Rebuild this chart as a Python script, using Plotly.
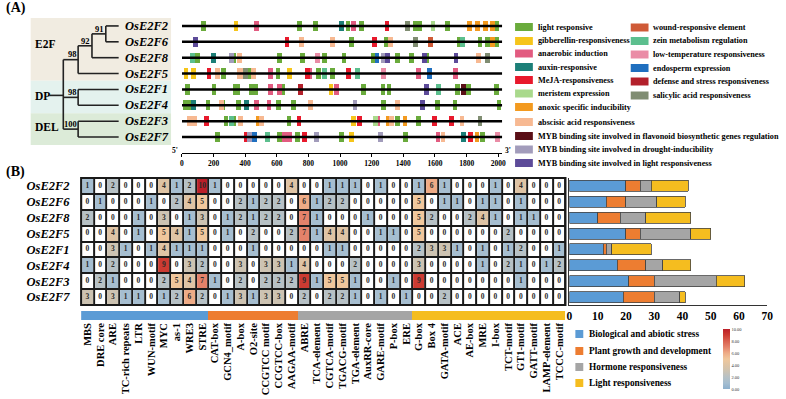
import numpy as np
import plotly.graph_objects as go

W, H = 786, 399
FONT = "Liberation Serif"

# ---------------- data ----------------
genes = ["OsE2F2", "OsE2F6", "OsE2F8", "OsE2F5", "OsE2F1", "OsE2F4", "OsE2F3", "OsE2F7"]

elements = ["MBS", "DRE core", "ARE", "TC-rich repeats", "LTR", "WUN-motif", "MYC", "as-1", "WRE3", "STRE",
            "CAT-box", "GCN4_motif", "A-box", "O2-site", "CCGTCC motif", "CCGTCC-box", "AAGAA-motif",
            "ABRE", "TCA-element", "CGTCA-motif", "TGACG-motif", "TGA-element", "AuxRR-core", "GARE-motif",
            "P-box", "ERE",
            "G-box", "Box 4", "GATA-motif", "ACE", "AE-box", "MRE", "I-box", "TCT-motif", "GT1-motif",
            "GATT-motif", "LAMP-element", "TCCC-motif"]

category_names = ["Biological and abiotic stress", "Plant growth and development",
                  "Hormone responsiveness", "Light responsiveness"]
category_sizes = [10, 7, 9, 12]
category_colors = ["#5b9bd5", "#ed7d31", "#a5a5a5", "#f5bd1f"]

counts_F2 = [1, 0, 2, 0, 0, 0, 4, 1, 2, 10, 1, 0, 0, 0, 0, 0, 4, 0, 0, 1, 1, 1, 0, 1, 0, 0,
             1, 6, 1, 0, 0, 0, 1, 0, 4, 0, 0, 0]
counts_F6 = [0, 1, 0, 0, 0, 1, 0, 2, 4, 5, 0, 0, 2, 1, 2, 2, 0, 6, 1, 2, 2, 0, 0, 0, 0, 0,
             5, 0, 1, 1, 0, 1, 1, 0, 1, 0, 0, 0]
counts_F8 = [2, 0, 0, 0, 1, 0, 3, 0, 1, 3, 0, 1, 2, 1, 2, 2, 0, 7, 1, 0, 0, 0, 1, 0, 0, 0,
             5, 2, 0, 0, 2, 4, 1, 0, 1, 1, 0, 0]
counts_F5 = [0, 0, 4, 0, 1, 0, 5, 4, 1, 5, 0, 1, 0, 2, 0, 0, 2, 7, 1, 4, 4, 0, 0, 1, 1, 0,
             5, 0, 0, 0, 0, 0, 0, 2, 0, 0, 0, 0]
counts_F1 = [0, 0, 3, 1, 0, 1, 4, 1, 1, 1, 0, 0, 0, 1, 0, 0, 0, 0, 0, 1, 1, 0, 0, 0, 0, 0,
             2, 3, 3, 1, 0, 1, 0, 1, 2, 0, 0, 1]
counts_F4 = [1, 0, 2, 0, 0, 0, 9, 0, 3, 2, 0, 0, 3, 0, 3, 3, 1, 4, 0, 0, 0, 2, 0, 0, 0, 0,
             3, 0, 0, 0, 0, 1, 0, 2, 1, 0, 1, 2]
counts_F3 = [0, 2, 1, 0, 0, 0, 2, 5, 4, 7, 1, 0, 2, 0, 2, 2, 2, 9, 1, 5, 5, 1, 0, 0, 1, 0,
             9, 0, 0, 0, 0, 0, 0, 0, 1, 0, 0, 0]
counts_F7 = [3, 0, 3, 1, 1, 0, 1, 2, 6, 2, 0, 1, 3, 1, 3, 3, 0, 2, 0, 2, 2, 1, 0, 1, 0, 1,
             0, 0, 2, 0, 0, 0, 0, 0, 0, 0, 0, 0]
counts = [counts_F2, counts_F6, counts_F8, counts_F5, counts_F1, counts_F4, counts_F3, counts_F7]

# promoter element types (legend order)
site_types = ["L", "G", "AN", "AU", "M", "ME", "AX", "ABA", "MF", "MD", "ML",
              "W", "Z", "LT", "EN", "D", "SA"]
site_labels = ["light responsive", "gibberellin-responsiveness", "anaerobic induction", "auxin-responsive",
               "MeJA-responsiveness", "meristem expression", "anoxic specific inducibility",
               "abscisic acid responsiveness",
               "MYB binding site involved in flavonoid biosynthetic genes regulation",
               "MYB binding site involved in drought-inducibility",
               "MYB binding site involved in light responsiveness",
               "wound-responsive element", "zein metabolism regulation", "low-temperature responsiveness",
               "endosperm expression", "defense and stress responsiveness", "salicylic acid responsiveness"]
site_colors = ["#6aab3c", "#f6c51a", "#e25b80", "#1c7f78", "#e8192c", "#a9d98c", "#f39a1f", "#f7b992",
               "#5a0e16", "#a29cbb", "#5d4b99",
               "#cf5a37", "#5cbf8e", "#ea8ca6", "#1f6fbf", "#b3202b", "#808d72"]

sites_pos_F2 = [135, 342, 473, 744, 844, 1010, 1050, 1087, 1135, 1296, 1427, 1473, 1500, 1587, 1677,
                1817, 1869, 1921, 1962, 1990]
sites_type_F2 = ["L", "G", "AN", "L", "L", "AU", "L", "AN", "L", "M", "SA", "L", "L", "ME", "L",
                 "AX", "AX", "AX", "AX", "L"]
sites_pos_F6 = [87, 664, 754, 952, 1071, 1219, 1290, 1317, 1477, 1573, 1754, 1775, 1885, 1931, 1962, 1990]
sites_type_F6 = ["ML", "M", "ABA", "ABA", "L", "M", "L", "ABA", "SA", "W", "L", "Z", "L", "L", "AX", "L"]
sites_pos_F8 = [69, 100, 198, 312, 327, 365, 615, 760, 858, 900, 1025, 1212, 1233, 1275, 1302, 1365,
                1452, 1535, 1546, 1733, 1875, 1931]
sites_type_F8 = ["Z", "L", "AU", "MD", "L", "ABA", "L", "L", "LT", "L", "L", "L", "EN", "MD", "ML", "L",
                 "L", "ML", "L", "ML", "ABA", "SA"]
sites_pos_F5 = [25, 73, 171, 223, 265, 365, 381, 404, 421, 452, 560, 608, 681, 792, 806, 865, 900, 952,
                1052, 1108, 1275, 1498, 1567, 1729]
sites_type_F5 = ["G", "G", "M", "ABA", "L", "ABA", "ABA", "SA", "L", "ABA", "AN", "L", "G", "M", "AN",
                 "L", "Z", "L", "M", "Z", "LT", "AN", "EN", "AN"]
sites_pos_F1 = [37, 202, 335, 352, 437, 465, 560, 619, 635, 750, 942, 979, 1146, 1271, 1310, 1546, 1623,
                1744, 1781, 1812, 1990]
sites_type_F1 = ["L", "L", "L", "L", "L", "L", "AN", "AN", "L", "D", "G", "AN", "L", "L", "L", "ML", "Z",
                 "L", "MF", "L", "L"]
sites_pos_F4 = [21, 46, 73, 165, 248, 260, 358, 410, 473, 550, 612, 706, 812, 1094, 1275, 1363, 1519,
                1615, 1727, 2004]
sites_type_F4 = ["L", "L", "AU", "L", "ABA", "L", "L", "AU", "AN", "AN", "L", "L", "ABA", "MD", "L", "ABA",
                 "ML", "L", "L", "L"]
sites_pos_F3 = [50, 81, 156, 279, 312, 327, 369, 483, 504, 677, 740, 1087, 1123, 1223, 1240, 1306, 1327,
                1365, 1410, 1494, 1598, 1706, 1771, 1885]
sites_type_F3 = ["ABA", "ABA", "M", "L", "Z", "L", "ABA", "AX", "ABA", "L", "M", "G", "M", "ME", "AN", "AX",
                 "ABA", "L", "AX", "L", "M", "M", "ABA", "SA"]
sites_pos_F7 = [227, 406, 427, 458, 542, 615, 650, 681, 733, 775, 852, 1010, 1073, 1254, 1415, 1619, 1650,
                1779, 1823, 1865, 1900, 1994]
sites_type_F7 = ["L", "M", "MD", "EN", "Z", "L", "AN", "AN", "L", "M", "MD", "L", "G", "MD", "L", "AN", "ABA",
                 "AU", "M", "AX", "L", "LT"]
sites_pos = [sites_pos_F2, sites_pos_F6, sites_pos_F8, sites_pos_F5, sites_pos_F1, sites_pos_F4,
             sites_pos_F3, sites_pos_F7]
sites_type = [sites_type_F2, sites_type_F6, sites_type_F8, sites_type_F5, sites_type_F1, sites_type_F4,
              sites_type_F3, sites_type_F7]
promoter_length = 2025
ruler_ticks = list(range(0, 2001, 200))

# phylogenetic tree (node name, depth, children, bootstrap)
leaf_depth = 117
tree_nodes = [("n91", 104, ["OsE2F2", "OsE2F6"], "91"),
              ("n92", 90, ["n91", "OsE2F8"], "92"),
              ("n98a", 76, ["n92", "OsE2F5"], "98"),
              ("nDP", 76, ["OsE2F1", "OsE2F4"], "98"),
              ("nDEL", 76, ["OsE2F3", "OsE2F7"], "100"),
              ("root", 61, ["n98a", "nDP", "nDEL"], "")]
root_stub = 47
subfamilies = ["E2F", "DP", "DEL"]
subfamily_rows = [(-0.62, 3.45), (3.45, 5.5), (5.5, 7.62)]
subfamily_label_rows = [1.15, 4.42, 6.38]
subfamily_fill = ["#f1ece1", "#e4f2ee", "#dcebd8"]

bar_ticks = list(range(0, 71, 10))

# ---------------- helpers ----------------
def px_x(p):
    return p / W

def px_y(p):
    return 1 - p / H

def bfont(size, color="black", italic=False):
    d = dict(family=FONT, size=size, color=color, weight="bold")
    if italic:
        d["style"] = "italic"
    return d

fig = go.Figure()
rows = list(range(len(genes)))

# ---------------- panel A : tree ----------------
ypos = {g: i for i, g in enumerate(genes)}
xpos = {g: leaf_depth for g in genes}
tx, ty = [], []
for name, depth, children, boot in tree_nodes:
    cy = [ypos[c] for c in children]
    ypos[name] = (min(cy) + max(cy)) / 2 if len(children) == 2 else float(np.mean(cy))
    xpos[name] = depth
    tx += [depth, depth, None]
    ty += [min(cy), max(cy), None]
    for c in children:
        tx += [depth, xpos[c], None]
        ty += [ypos[c], ypos[c], None]
tx += [root_stub, xpos["root"], None]
ty += [ypos["root"], ypos["root"], None]
fig.add_trace(go.Scatter(x=tx, y=ty, mode="lines", line=dict(color="#222222", width=1.6),
                         xaxis="x", yaxis="y", hoverinfo="skip"))

shapes = []
annotations = []
for (r0, r1), col in zip(subfamily_rows, subfamily_fill):
    shapes.append(dict(type="rect", xref="x", yref="y", x0=28, x1=170, y0=r0, y1=r1,
                       fillcolor=col, line=dict(width=0), layer="below"))
for lab, r in zip(subfamilies, subfamily_label_rows):
    annotations.append(dict(x=30, y=r, xref="x", yref="y", text=lab, showarrow=False,
                            xanchor="left", yanchor="middle", font=bfont(11.5)))
for name, depth, children, boot in tree_nodes:
    if boot:
        annotations.append(dict(x=depth + 0.5, y=ypos[name] - 0.33, xref="x", yref="y", text=boot,
                                showarrow=False, xanchor="right", yanchor="middle", font=bfont(8.5)))
for i, g in enumerate(genes):
    annotations.append(dict(x=121, y=i, xref="x", yref="y", text=g, showarrow=False,
                            xanchor="left", yanchor="middle", font=bfont(12.5, italic=True)))

# ---------------- panel A : promoter tracks ----------------
lx, ly = [], []
for i in rows:
    lx += [0, promoter_length, None]
    ly += [i, i, None]
fig.add_trace(go.Scatter(x=lx, y=ly, mode="lines", line=dict(color="black", width=2.6),
                         xaxis="x2", yaxis="y", hoverinfo="skip"))
site_w = 30
for t, col in zip(site_types, site_colors):
    xs, ys, bases = [], [], []
    for i in rows:
        for p, tt in zip(sites_pos[i], sites_type[i]):
            if tt == t:
                xs.append(site_w)
                ys.append(i)
                bases.append(p - site_w / 2)
    if xs:
        fig.add_trace(go.Bar(x=xs, y=ys, base=bases, orientation="h", width=0.64,
                             marker=dict(color=col, line=dict(width=0)),
                             xaxis="x2", yaxis="y", hoverinfo="skip"))

annotations.append(dict(x=0, y=px_y(150), xref="x2", yref="paper", text="5'", showarrow=False,
                        xanchor="right", yanchor="middle", xshift=-2, font=bfont(7.5)))
annotations.append(dict(x=promoter_length, y=px_y(150), xref="x2", yref="paper", text="3'",
                        showarrow=False, xanchor="left", yanchor="middle", xshift=1, font=bfont(7.5)))

# element legend
col1_y = [27, 41, 53.5, 67, 80, 93.5, 107, 122, 136, 149.5, 163]
col2_y = [27.5, 41, 54.5, 68, 81.5, 95.5]
for k, (lab, col) in enumerate(zip(site_labels, site_colors)):
    if k < 11:
        x0, yc = 518, col1_y[k]
    else:
        x0, yc = 635, col2_y[k - 11]
    shapes.append(dict(type="rect", xref="paper", yref="paper", x0=px_x(x0), x1=px_x(x0 + 18),
                       y0=px_y(yc + 4), y1=px_y(yc - 4), fillcolor=col, line=dict(width=0)))
    annotations.append(dict(x=px_x(x0 + 21), y=px_y(yc), xref="paper", yref="paper", text=lab,
                            showarrow=False, xanchor="left", yanchor="middle", font=bfont(8.2)))

# ---------------- panel B : heatmap ----------------
z = np.array(counts, dtype=float)
zc = np.where(z == 0, np.nan, z)
heat_cs = [[0.0, "#8db0cd"], [0.1, "#a6bed0"], [0.2, "#b7c1c5"], [0.3, "#cdc3b2"], [0.4, "#dfc4a5"],
           [0.5, "#f0c79c"], [0.6, "#eeab86"], [0.7, "#e4826a"], [0.8, "#d9604f"], [0.9, "#cc3b32"],
           [1.0, "#bb1f28"]]
cols = list(range(len(elements)))
fig.add_trace(go.Heatmap(z=np.zeros_like(z), x=cols, y=rows, colorscale=[[0, "white"], [1, "white"]],
                         showscale=False, xgap=2, ygap=2, xaxis="x3", yaxis="y3", hoverinfo="skip"))
fig.add_trace(go.Heatmap(z=zc, x=cols, y=rows, colorscale=heat_cs, zmin=0, zmax=10, xgap=2, ygap=2,
                         xaxis="x3", yaxis="y3", hoverinfo="skip",
                         colorbar=dict(x=px_x(728), xanchor="left", y=px_y(359), yanchor="middle",
                                       len=60 / H, lenmode="fraction", thickness=7, thicknessmode="pixels",
                                       outlinewidth=0, xpad=0, ypad=0, ticks="",
                                       tickvals=[0, 2, 4, 6, 8, 10], tickformat=".2f",
                                       tickfont=dict(family=FONT, size=4.5, color="#333"))))
tx_, ty_, tt_ = [], [], []
for i in rows:
    for j in cols:
        tx_.append(j)
        ty_.append(i)
        tt_.append(str(counts[i][j]))
fig.add_trace(go.Scatter(x=tx_, y=ty_, text=tt_, mode="text",
                         textfont=dict(family=FONT, size=7.5, color="#2b2b2b", weight="bold"),
                         xaxis="x3", yaxis="y3", hoverinfo="skip"))
shapes.append(dict(type="rect", xref="x3 domain", yref="y3 domain", x0=0, x1=1, y0=0, y1=1,
                   fillcolor="#1a1a1a", line=dict(width=0), layer="below"))
shapes.append(dict(type="rect", xref="x3 domain", yref="y3 domain", x0=0, x1=1, y0=0, y1=1,
                   fillcolor="rgba(0,0,0,0)", line=dict(width=2, color="#1a1a1a"), layer="above"))

# category bar below heatmap
cat_idx = []
for k, n in enumerate(category_sizes):
    cat_idx += [k] * n
cat_cs = [[0, category_colors[0]], [1 / 6, category_colors[0]], [1 / 6, category_colors[1]],
          [0.5, category_colors[1]], [0.5, category_colors[2]], [5 / 6, category_colors[2]],
          [5 / 6, category_colors[3]], [1, category_colors[3]]]
fig.add_trace(go.Heatmap(z=[cat_idx], x=cols, y=[0], colorscale=cat_cs, zmin=0, zmax=3, showscale=False,
                         xaxis="x3", yaxis="y4", hoverinfo="skip"))

# ---------------- panel B : stacked bars ----------------
start = 0
for k, n in enumerate(category_sizes):
    vals = [sum(c[start:start + n]) for c in counts]
    start += n
    fig.add_trace(go.Bar(x=vals, y=rows, orientation="h", width=0.7, name=category_names[k],
                         marker=dict(color=category_colors[k], line=dict(color="#444444", width=0.8)),
                         xaxis="x4", yaxis="y5", hoverinfo="skip"))

leg_y = [334, 351, 367, 383]
for k, (lab, col) in enumerate(zip(category_names, category_colors)):
    shapes.append(dict(type="rect", xref="paper", yref="paper", x0=px_x(579), x1=px_x(587),
                       y0=px_y(leg_y[k] + 4), y1=px_y(leg_y[k] - 4), fillcolor=col, line=dict(width=0)))
    annotations.append(dict(x=px_x(591), y=px_y(leg_y[k]), xref="paper", yref="paper", text=lab,
                            showarrow=False, xanchor="left", yanchor="middle", font=bfont(9.3)))

annotations.append(dict(x=px_x(1), y=px_y(8), xref="paper", yref="paper", text="(A)", showarrow=False,
                        xanchor="left", yanchor="middle", font=bfont(14)))
annotations.append(dict(x=px_x(1), y=px_y(172), xref="paper", yref="paper", text="(B)", showarrow=False,
                        xanchor="left", yanchor="middle", font=bfont(14)))

heat_dom = [px_y(305), px_y(178)]
fig.update_layout(
    width=W, height=H, margin=dict(l=0, r=0, t=0, b=0),
    paper_bgcolor="white", plot_bgcolor="white", showlegend=False, barmode="stack",
    font=dict(family=FONT),
    xaxis=dict(domain=[0, px_x(181)], range=[0, 181], visible=False, anchor="y", fixedrange=True),
    yaxis=dict(domain=[px_y(145), px_y(18)], range=[7.5, -0.5], visible=False, anchor="x"),
    xaxis2=dict(domain=[px_x(181), px_x(181 + promoter_length * 0.16)], range=[0, promoter_length],
                anchor="free", position=px_y(153), showline=True, linecolor="black", linewidth=1.3,
                ticks="outside", ticklen=3, tickcolor="black", tickwidth=1, tickvals=ruler_ticks,
                tickfont=bfont(7.5), showgrid=False, zeroline=False),
    xaxis3=dict(domain=[px_x(79), px_x(569)], range=[-0.5, len(elements) - 0.5], anchor="y4",
                tickvals=cols, ticktext=elements, tickangle=-90, tickfont=bfont(10.5), ticks="",
                showgrid=False, zeroline=False, showline=False),
    yaxis3=dict(domain=heat_dom, range=[7.5, -0.5], anchor="x3", tickvals=rows, ticktext=genes,
                tickfont=bfont(12.5, italic=True), ticks="outside", ticklen=8,
                tickcolor="rgba(0,0,0,0)", showgrid=False, zeroline=False),
    yaxis4=dict(domain=[px_y(320), px_y(311)], range=[-0.5, 0.5], anchor="x3", visible=False),
    xaxis4=dict(domain=[px_x(573), px_x(773)], range=[0, 70], anchor="y5", tickvals=bar_ticks,
                tickfont=bfont(11.5), ticks="", showline=True, linecolor="#333", linewidth=1.2,
                showgrid=False, zeroline=False),
    yaxis5=dict(domain=heat_dom, range=[7.5, -0.5], anchor="x4", showticklabels=False, ticks="",
                showline=True, linecolor="#333", linewidth=1.2, showgrid=False, zeroline=False),
    shapes=shapes, annotations=annotations,
)

fig.write_html("out.html")
